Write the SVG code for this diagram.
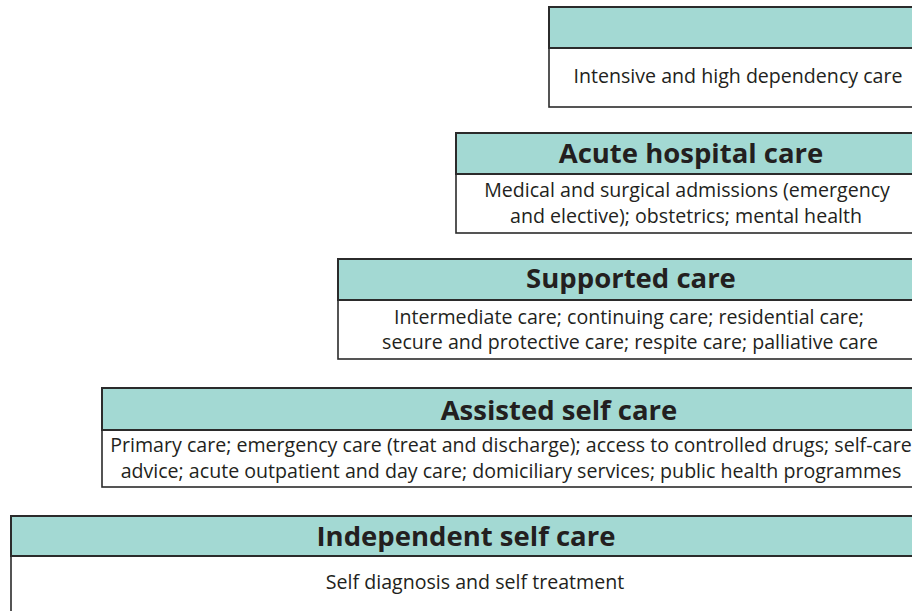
<svg xmlns="http://www.w3.org/2000/svg" width="912" height="611" viewBox="0 0 912 611">
<style>
.hd{fill:#a3d9d3;stroke:#2b2b2b;stroke-width:2}
.bd{fill:#ffffff;stroke:#2b2b2b;stroke-width:1.6}
.t{font-family:"Open Sans","Noto Sans",sans-serif;font-weight:bold;font-size:27.5px;fill:#231f20;text-anchor:middle}
.b{font-family:"Open Sans","Noto Sans",sans-serif;font-size:19.6px;fill:#231f20;text-anchor:middle}
</style>
<rect width="912" height="611" fill="#ffffff"/>
<g id="intensive">
<rect class="bd" x="549" y="48" width="380" height="59"/>
<rect class="hd" x="549" y="7" width="380" height="41"/>
<text class="b" x="738" y="83">Intensive and high dependency care</text>
</g>
<g id="acute">
<rect class="bd" x="456" y="174" width="480" height="59"/>
<rect class="hd" x="456" y="133" width="480" height="41"/>
<text class="t" x="691" y="163">Acute hospital care</text>
<text class="b" x="687" y="197">Medical and surgical admissions (emergency</text>
<text class="b" x="686" y="223">and elective); obstetrics; mental health</text>
</g>
<g id="supported">
<rect class="bd" x="338" y="300" width="600" height="59"/>
<rect class="hd" x="338" y="259" width="600" height="41"/>
<text class="t" x="631" y="288">Supported care</text>
<text class="b" x="629" y="324">Intermediate care; continuing care; residential care;</text>
<text class="b" x="630" y="349">secure and protective care; respite care; palliative care</text>
</g>
<g id="assisted">
<rect class="bd" x="102" y="430" width="840" height="57"/>
<rect class="hd" x="102" y="388" width="840" height="42"/>
<text class="t" x="559" y="420">Assisted self care</text>
<text class="b" x="511" y="452">Primary care; emergency care (treat and discharge); access to controlled drugs; self-care</text>
<text class="b" x="511" y="478">advice; acute outpatient and day care; domiciliary services; public health programmes</text>
</g>
<g id="independent">
<rect class="bd" x="11" y="556" width="940" height="70"/>
<rect class="hd" x="11" y="516" width="940" height="40"/>
<text class="t" x="466" y="546">Independent self care</text>
<text class="b" x="475" y="589">Self diagnosis and self treatment</text>
</g>
<g id="connectors"/>
</svg>
